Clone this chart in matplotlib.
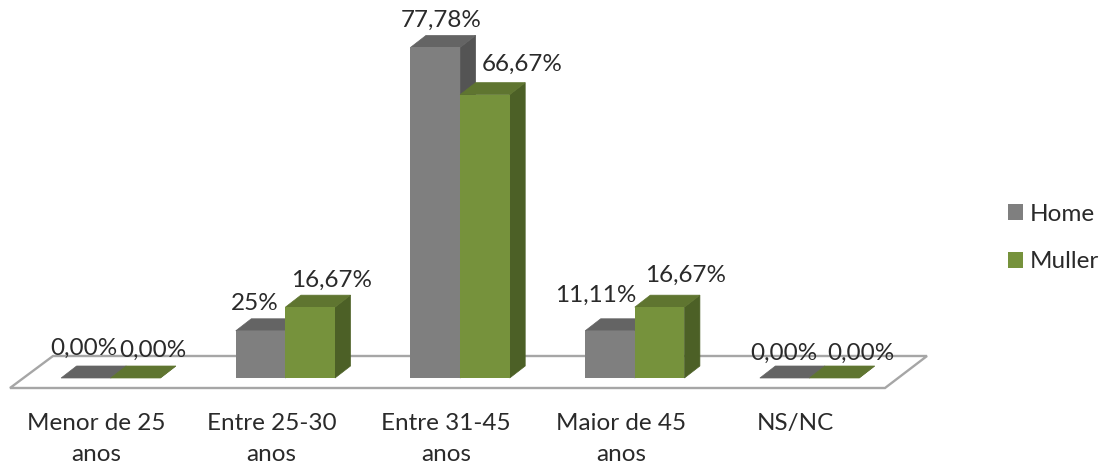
import matplotlib
matplotlib.use("Agg")
import matplotlib.pyplot as plt
from matplotlib.patches import Polygon, Patch

categories = ["Menor de 25\nanos", "Entre 25-30\nanos", "Entre 31-45\nanos", "Maior de 45\nanos", "NS/NC"]
series_names = ["Home", "Muller"]
home_values = [0.0, 11.11, 77.78, 11.11, 0.0]
muller_values = [0.0, 16.67, 66.67, 16.67, 0.0]
home_labels = ["0,00%", "25%", "77,78%", "11,11%", "0,00%"]
muller_labels = ["0,00%", "16,67%", "66,67%", "16,67%", "0,00%"]

# pixel styling
W, H = 1109, 469
DPI = 100
STEP = 174.7      # px per category
UNIT = 4.25       # px per percent
X0, Y0 = 110.7, 378
plt.rcParams["font.family"] = ["Lato", "DejaVu Sans"]
FS = 17.5
TXT = "#2a2a2a"

fig = plt.figure(figsize=(W / DPI, H / DPI), dpi=DPI)
ax = fig.add_axes([0, 0, 1, 1])
ax.set_xlim((0 - X0) / STEP, (W - X0) / STEP)
ax.set_ylim((Y0 - H) / UNIT, Y0 / UNIT)
ax.axis("off")

dx = 15.5 / STEP
dy = 12 / UNIT
bw = 49.6 / STEP

# floor
fx = lambda p: (p - X0) / STEP
fy = lambda p: (Y0 - p) / UNIT
ax.add_patch(Polygon([(fx(10), fy(388)), (fx(53), fy(356)), (fx(927), fy(356)), (fx(885), fy(388))],
                     closed=True, fc="white", ec="#A6A6A6", lw=1.7, zorder=1))

def bar3d(xl, v, front, top, side, z):
    xr = xl + bw
    ax.add_patch(Polygon([(xr, 0), (xr + dx, dy), (xr + dx, v + dy), (xr, v)], closed=True, fc=side, ec=side, lw=0.5, zorder=z))
    ax.add_patch(Polygon([(xl, v), (xl + dx, v + dy), (xr + dx, v + dy), (xr, v)], closed=True, fc=top, ec=top, lw=0.5, zorder=z))
    if v > 0:
        ax.bar(xl, v, width=bw, align="edge", color=front, edgecolor="none", zorder=z + 0.1)

for i in range(len(categories)):
    bar3d(i - bw, home_values[i], "#7F7F7F", "#646464", "#545454", 2)
    bar3d(i, muller_values[i], "#76923C", "#5F7530", "#4C6026", 3)

home_off = [(-2, 30), (-6, 27), (6, 27), (-14, 35), (-1, 25)]
muller_off = [(17, 28), (21, 27), (37, 30), (26, 32), (27, 25)]
for i in range(len(categories)):
    ax.annotate(home_labels[i], (i - bw / 2, home_values[i]), xytext=(home_off[i][0] * 0.72, home_off[i][1] * 0.72),
                textcoords="offset points", ha="center", va="center", fontsize=FS, color=TXT, zorder=5)
    ax.annotate(muller_labels[i], (i + bw / 2, muller_values[i]), xytext=(muller_off[i][0] * 0.72, muller_off[i][1] * 0.72),
                textcoords="offset points", ha="center", va="center", fontsize=FS, color=TXT, zorder=5)
    ax.annotate(categories[i], (i, 0), xytext=(-14 * 0.72, -34.5 * 0.72), textcoords="offset points",
                ha="center", va="top", fontsize=FS, color=TXT, linespacing=1.6)

handles = [Patch(fc="#7F7F7F", ec="none"), Patch(fc="#76923C", ec="none")]
ax.legend(handles, series_names, loc="center left", bbox_to_anchor=(1003 / W, 1 - 238 / H), frameon=False,
          fontsize=FS, labelcolor=TXT, handlelength=0.63, handleheight=0.63, handletextpad=0.25, labelspacing=1.08,
          borderpad=0.2, borderaxespad=0)
fig.savefig("out.png", dpi=DPI, facecolor="white")
